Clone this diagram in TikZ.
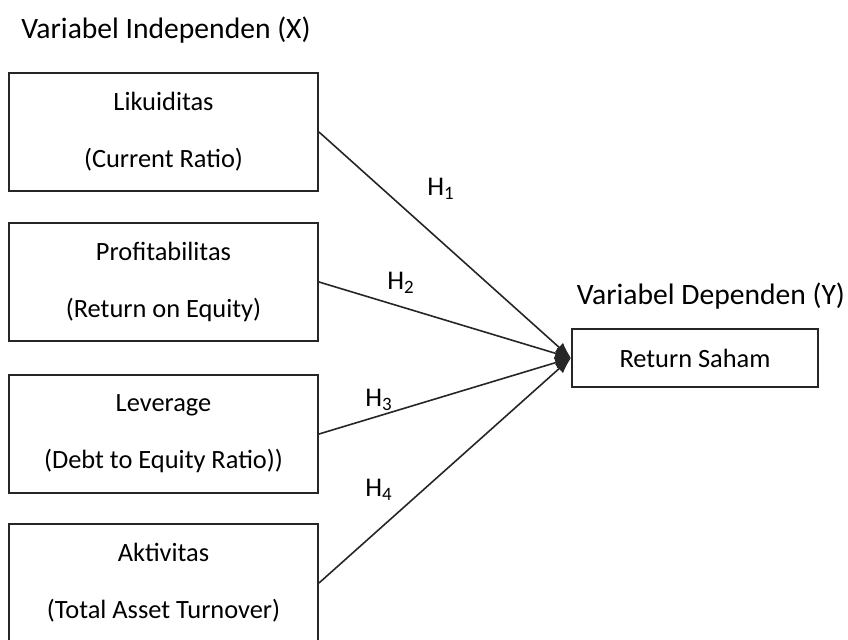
\documentclass[tikz,border=0pt]{standalone}
\usepackage{fontspec}
\setmainfont{Carlito}
\usetikzlibrary{arrows.meta}

\begin{document}
\begin{tikzpicture}[
  x=0.5pt,y=-0.5pt,
  varbox/.style={rectangle,draw=black!85,line width=1pt,minimum width=154.5pt,minimum height=59pt,
    align=center,font=\fontsize{13.2}{28.5}\selectfont,inner sep=0pt},
  depbox/.style={rectangle,draw=black!85,line width=1pt,minimum width=123pt,minimum height=29pt,
    font=\fontsize{13.2}{15}\selectfont,inner sep=0pt},
  heading/.style={font=\fontsize{14.8}{17}\selectfont,inner sep=0pt},
  hyp/.style={font=\fontsize{13.5}{15}\selectfont,inner sep=0pt},
  link/.style={draw=black!85,line width=0.8pt,-{Latex[length=8pt,width=6pt]}}
]
\useasboundingbox (0,0) rectangle (848,639);

\node[heading] (titlex) at (166,30) {Variabel Independen (X)};
\node[heading] (titley) at (711,296) {Variabel Dependen (Y)};

\foreach \n/\y/\a/\b in {lik/132/Likuiditas/(Current Ratio),
                          pro/282/Profitabilitas/(Return on Equity),
                          lev/434/Leverage/(Debt to Equity Ratio)),
                          akt/583/Aktivitas/(Total Asset Turnover)}
  \node[varbox] (\n) at (163.5,\y) {\a\\\b};

\node[depbox] (ret) at (695,358) {Return Saham};

\foreach \n in {lik,pro,lev,akt}
  \draw[link] (\n.east) -- (ret.west);

\node[hyp] (h1) at (441,189) {H\textsubscript{1}};
\node[hyp] (h2) at (401,283) {H\textsubscript{2}};
\node[hyp] (h3) at (379,400) {H\textsubscript{3}};
\node[hyp] (h4) at (379,490) {H\textsubscript{4}};

\end{tikzpicture}
\end{document}
